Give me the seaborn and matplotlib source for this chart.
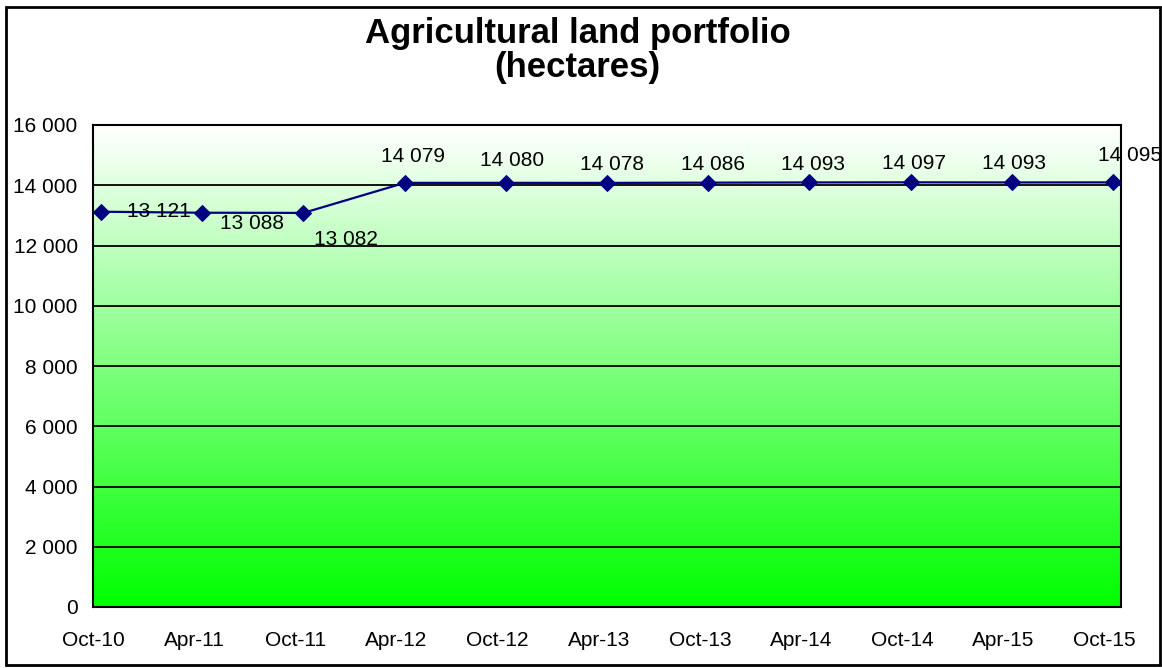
import numpy as np
import pandas as pd
import matplotlib
matplotlib.use("Agg")
import matplotlib.pyplot as plt
from matplotlib.colors import LinearSegmentedColormap
from matplotlib.patches import Rectangle
from matplotlib.ticker import FuncFormatter
import seaborn as sns

periods = ["Oct-10", "Apr-11", "Oct-11", "Apr-12", "Oct-12", "Apr-13",
           "Oct-13", "Apr-14", "Oct-14", "Apr-15", "Oct-15"]
hectares = [13121, 13088, 13082, 14079, 14080, 14078,
            14086, 14093, 14097, 14093, 14095]

sns.set_style("white")
plt.rcParams["font.family"] = ["Liberation Sans", "DejaVu Sans"]
plt.rcParams["text.color"] = "black"

def fmt(v):
    return f"{int(round(v)):,}".replace(",", " ")

# points sit at end of month, ticks at start of month (date axis)
df = pd.DataFrame({"x": np.arange(len(periods)) + 0.08, "y": hectares})

fig = plt.figure(figsize=(11.62, 6.68), dpi=100)
ax = fig.add_axes([93 / 1162, 61 / 668, 1028 / 1162, 482 / 668])

xmax = 10.16
grad = np.linspace(0, 1, 256).reshape(-1, 1)
cmap = LinearSegmentedColormap.from_list("g", ["#ffffff", "#00ff00"])
# row 0 (white) at the top
ax.imshow(grad, extent=[0, xmax, 0, 16000], aspect="auto", cmap=cmap,
          zorder=0, origin="upper")

for yv in range(2000, 16000, 2000):
    ax.axhline(yv, color="black", lw=1.3, zorder=1)

sns.lineplot(data=df, x="x", y="y", ax=ax, color="#000080", lw=1.6,
             marker="D", markersize=8, markeredgecolor="#000080", zorder=3)

# label offsets in pixels, as placed in the original
offsets = [(58, 0), (50, -11), (42, -27), (8, 26), (6, 22), (5, 18),
           (5, 18), (4, 18), (3, 19), (2, 19), (17, 27)]
for x, y, (dx, dy) in zip(df["x"], df["y"], offsets):
    ax.annotate(fmt(y), (x, y), xytext=(dx * 0.72, dy * 0.72),
                textcoords="offset points", ha="center", va="center",
                fontsize=15, color="black", zorder=4, annotation_clip=False)

ax.set_xlim(0, xmax)
ax.set_ylim(0, 16000)
ax.set_xticks(range(len(periods)))
ax.set_xticklabels(periods)
ax.set_yticks(range(0, 16001, 2000))
ax.yaxis.set_major_formatter(FuncFormatter(lambda v, p: fmt(v)))
ax.tick_params(axis="both", direction="out", length=6, width=1.3,
               labelsize=15, colors="black", pad=4)
ax.tick_params(axis="x", pad=11)
ax.tick_params(axis="y", length=7)
ax.set_xlabel("")
ax.set_ylabel("")
for s in ax.spines.values():
    s.set_color("black")
    s.set_linewidth(1.5)
    s.set_visible(True)

fig.text(0.497, 1 - 33 / 668, "Agricultural land portfolio", ha="center",
         va="center", fontsize=25, fontweight="bold", color="black")
fig.text(0.497, 1 - 68 / 668, "(hectares)", ha="center",
         va="center", fontsize=25, fontweight="bold", color="black")

fig.patches.append(Rectangle((6 / 1162, 3 / 668), 1154 / 1162, 658 / 668,
                             transform=fig.transFigure, fill=False,
                             edgecolor="black", lw=2))

fig.savefig("out.png", dpi=100)
